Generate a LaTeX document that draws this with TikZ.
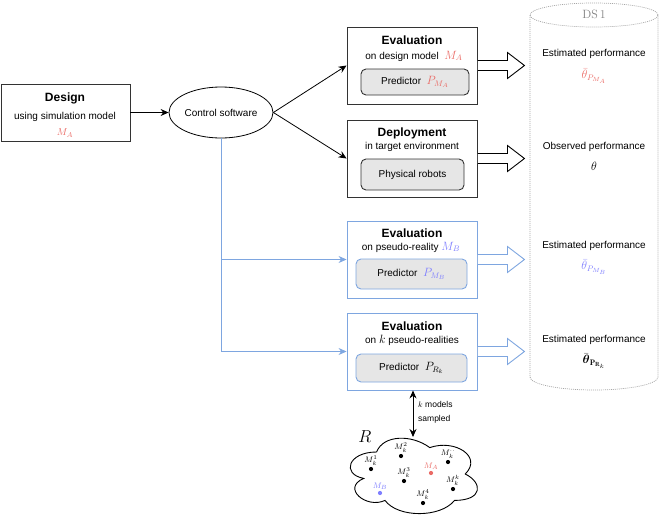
\documentclass[tikz,border=0pt]{standalone}
\usepackage{amsmath}
\usepackage{fontspec}
\setsansfont{Liberation Sans}
\usetikzlibrary{arrows.meta,calc,shapes.geometric}
\definecolor{myred}{HTML}{EA6B66}
\definecolor{myblue}{HTML}{7EA6E0}
\definecolor{mybluet}{HTML}{7F7FFF}
\definecolor{boxgray}{HTML}{E6E6E6}
\definecolor{cylgray}{HTML}{A6A6A6}
\definecolor{edge}{HTML}{333333}
\begin{document}
\begin{tikzpicture}[x=1pt,y=-1pt,
  font=\sffamily\fontsize{10}{12}\selectfont,
  box/.style={draw=edge, line width=0.9pt, minimum width=130pt, minimum height=77pt, inner sep=0pt},
  bbox/.style={box, draw=myblue},
  inbox/.style={draw=edge, fill=boxgray, rounded corners=5pt, line width=0.9pt, inner sep=0pt},
  binbox/.style={inbox, draw=myblue},
  title/.style={font=\sffamily\bfseries\fontsize{12}{14}\selectfont, inner sep=0pt},
  txt/.style={inner sep=0pt},
  conn/.style={-{Stealth[length=8pt,width=7pt]}, line width=0.8pt},
  bconn/.style={conn, draw=myblue},
  blockarr/.style={draw=black, fill=white, line width=0.9pt, line join=miter},
  bblockarr/.style={blockarr, draw=myblue},
  cyl/.style={draw=cylgray, dash pattern=on 1pt off 1pt, line width=0.7pt},
  dot/.style={circle, fill=black, inner sep=0pt, minimum size=4.2pt},
  ml/.style={font=\fontsize{8}{9}\selectfont, inner sep=0.5pt, label distance=0.5pt},
]
\useasboundingbox (0,0) rectangle (660,514);

% cylinder (data store)
\draw[cyl] (530,15) -- (530,377) arc[start angle=180, end angle=360, x radius=64pt, y radius=13pt] -- (658,15);
\draw[cyl] (594,15) ellipse [x radius=64pt, y radius=12pt];
\node[txt, text=gray, font=\rmfamily\fontsize{12}{14}\selectfont] (ds) at (594,14) {DS\,1};

% design box
\node[box, minimum width=129pt, minimum height=57pt] (design) at (65.5,112.5) {};
\node[title] (designT) at (65,98) {Design};
\node[txt] (designS) at (65,117) {using simulation model};
\node[txt, text=myred] (designM) at (65,133) {$M_A$};

% control software
\node[ellipse, draw=black, line width=0.8pt, minimum width=104pt, minimum height=51pt, inner sep=0pt] (ell) at (221,112.5) {Control software};

% evaluation on design model
\node[box] (ev1) at (412,65.5) {};
\node[title] (ev1T) at (412,40) {Evaluation};
\node[txt] (ev1S) at (414,56) {on design model\ \ {\color{myred}\large$M_A$}};
\node[inbox, minimum width=108pt, minimum height=26pt] (pr1) at (415,82) {Predictor\ \ {\color{myred}\large$P_{M_A}$}};

% deployment
\node[box] (dep) at (412,158.5) {};
\node[title] (depT) at (412,133) {Deployment};
\node[txt] (depS) at (412,147) {in target environment};
\node[inbox, minimum width=103pt, minimum height=31pt] (pr2) at (412.5,174.5) {Physical robots};

% evaluation on pseudo-reality
\node[bbox] (bl1) at (412,259.5) {};
\node[title] (bl1T) at (412,233) {Evaluation};
\node[txt] (bl1S) at (411,247) {on pseudo-reality\ {\color{mybluet}\large$M_B$}};
\node[binbox, minimum width=111pt, minimum height=30pt] (pr3) at (411.5,274) {Predictor\ \ {\color{mybluet}\large$P_{M_B}$}};

% evaluation on k pseudo-realities
\node[bbox] (bl2) at (412,351.5) {};
\node[title] (bl2T) at (412,326) {Evaluation};
\node[txt] (bl2S) at (412,340) {on {\large$k$} pseudo-realities};
\node[binbox, minimum width=111pt, minimum height=28pt] (pr4) at (411.5,368) {Predictor\ \ {\large$P_{R_k}$}};

% right-hand texts
\node[txt] (est1) at (594,54) {Estimated performance};
\node[txt, text=myred] (th1) at (594,76) {\large$\bar{\theta}_{P_{M_A}}$};
\node[txt] (obs) at (594,147) {Observed performance};
\node[txt] (th2) at (594,166) {\large$\theta$};
\node[txt] (est3) at (594,246) {Estimated performance};
\node[txt, text=mybluet] (th3) at (594,267) {\large$\bar{\theta}_{P_{M_B}}$};
\node[txt] (est4) at (594,340) {Estimated performance};
\node[txt] (th4) at (594,361) {\large$\bar{\boldsymbol{\theta}}_{\mathbf{P}_{\mathbf{R}_k}}$};

% connectors
\draw[conn] (design.east) -- (ell.west);
\draw[conn] (ell.east) -- (ev1.west);
\draw[conn] (ell.east) -- (dep.west);
\draw[myblue, line width=0.8pt] (ell.south) -- (ell.south |- bl2.west);
\draw[bconn] (ell.south |- bl1.west) -- (bl1.west);
\draw[bconn] (ell.south |- bl2.west) -- (bl2.west);

% block arrows
\draw[blockarr] ($(ev1.east)+(0.5,5)$) -- ++(29.5,0) -- ++(0,8) -- ++(17,-13) -- ++(-17,-13) -- ++(0,8) -- ++(-29.5,0);
\draw[blockarr] ($(dep.east)+(0.5,5)$) -- ++(29.5,0) -- ++(0,8) -- ++(17,-13) -- ++(-17,-13) -- ++(0,8) -- ++(-29.5,0);
\draw[bblockarr] ($(bl1.east)+(0.5,5)$) -- ++(29.5,0) -- ++(0,8) -- ++(17,-13) -- ++(-17,-13) -- ++(0,8) -- ++(-29.5,0);
\draw[bblockarr] ($(bl2.east)+(0.5,5)$) -- ++(29.5,0) -- ++(0,8) -- ++(17,-13) -- ++(-17,-13) -- ++(0,8) -- ++(-29.5,0);

% cloud R
\begin{scope}[shift={(341,430)}, xscale=142, yscale=88]
\draw[line width=0.9pt, fill=white] (0.25,0.25) .. controls (0.05,0.25) and (0,0.5) .. (0.16,0.55)
  .. controls (0,0.66) and (0.18,0.9) .. (0.31,0.8)
  .. controls (0.4,1) and (0.7,1) .. (0.8,0.8)
  .. controls (1,0.8) and (1,0.6) .. (0.875,0.5)
  .. controls (1,0.3) and (0.8,0.1) .. (0.625,0.2)
  .. controls (0.5,0.05) and (0.3,0.05) .. (0.25,0.25) -- cycle;
\end{scope}
\coordinate (cloudtop) at (413,437);
\node[txt, font=\fontsize{17}{17}\selectfont] (R) at (365,437) {$R$};

\node[dot, label={[ml]above:$M_k^1$}] (m1) at (371,469) {};
\node[dot, label={[ml]above:$M_k^2$}] (m2) at (401,456) {};
\node[dot, label={[ml]above:$M_k^3$}] (m3) at (404,481) {};
\node[dot, fill=myred, label={[ml, text=myred]above:$M_A$}] (ma) at (431,473) {};
\node[dot, label={[ml]above:$M_k^{\cdot\cdot}$}] (mdots) at (448,462) {};
\node[dot, label={[ml]above:$M_k^k$}] (mk) at (453,489) {};
\node[dot, label={[ml]above:$M_k^4$}] (m4) at (423,503) {};
\node[dot, fill=mybluet, label={[ml, text=mybluet]above:$M_B$}] (mb) at (380,493) {};

% sampling arrow
\draw[{Stealth[length=8pt,width=7pt]}-{Stealth[length=8pt,width=7pt]}, line width=0.9pt] (bl2.south -| cloudtop) -- (cloudtop);
\node[anchor=west, align=left, inner sep=0pt, font=\sffamily\fontsize{8.5}{14}\selectfont] (klab) at (418,412) {$k$ models\\sampled};
\end{tikzpicture}
\end{document}
